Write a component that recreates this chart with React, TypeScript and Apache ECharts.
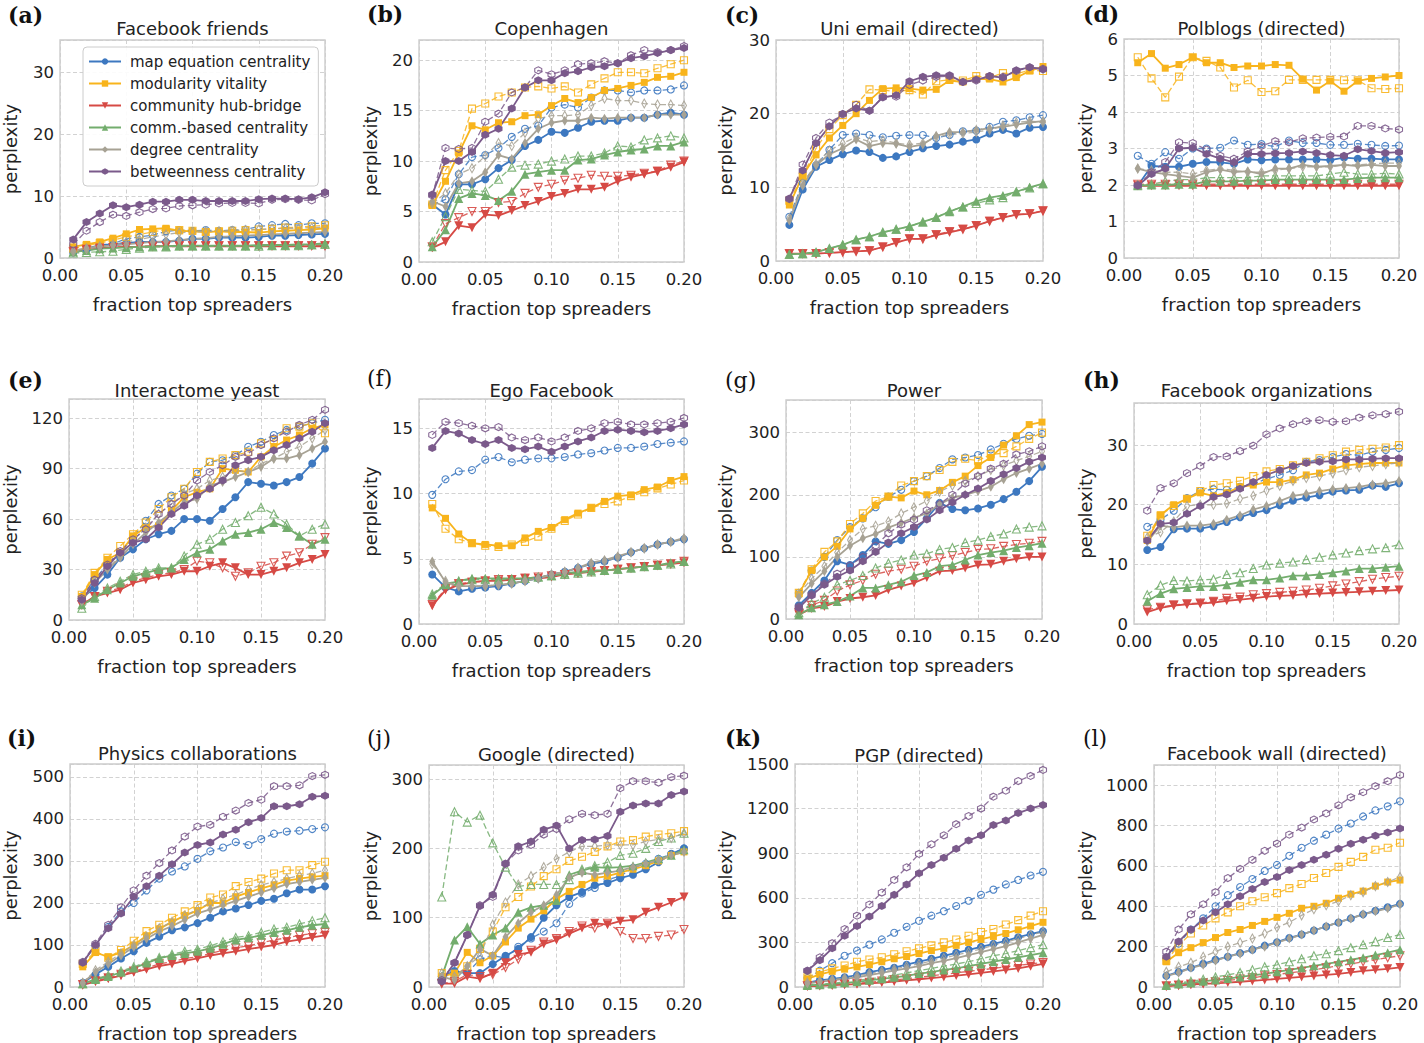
import React, { useEffect, useRef } from "react";
import * as echarts from "echarts";

// x positions: fraction of top spreaders
const X_FRACTIONS = [0.01, 0.02, 0.03, 0.04, 0.05, 0.06, 0.07, 0.08, 0.09, 0.1, 0.11, 0.12, 0.13, 0.14, 0.15, 0.16, 0.17, 0.18, 0.19, 0.2];

const METHODS = [
  "map equation centrality",
  "modularity vitality",
  "community hub-bridge",
  "comm.-based centrality",
  "degree centrality",
  "betweenness centrality",
];

const PANEL_LABELS = ["(a)", "(b)", "(c)", "(d)", "(e)", "(f)", "(g)", "(h)", "(i)", "(j)", "(k)", "(l)"];
const PANEL_TITLES = [
  "Facebook friends", "Copenhagen", "Uni email (directed)", "Polblogs (directed)",
  "Interactome yeast", "Ego Facebook", "Power", "Facebook organizations",
  "Physics collaborations", "Google (directed)", "PGP (directed)", "Facebook wall (directed)",
];
const Y_MAX = [35.2, 22, 30, 6, 131.4, 17.25, 352.6, 37.06, 530.8, 320.4, 1500, 1100];
const Y_STEP = [10, 5, 10, 1, 30, 5, 100, 10, 100, 100, 300, 200];

// each panel: [mecSolid, mecDashed, mvSolid, mvDashed, chbSolid, chbDashed, cbcSolid, cbcDashed, degSolid, degDashed, betSolid, betDashed]
const FACEBOOK_FRIENDS = [
  [1.0, 1.5, 2.1, 2.2, 2.4, 2.6, 2.6, 2.6, 2.8, 3.1, 3.1, 3.3, 3.3, 3.3, 3.4, 3.6, 3.6, 3.7, 3.8, 3.9],
  [0.9, 1.3, 1.9, 2.3, 3.1, 3.4, 3.7, 4.3, 4.5, 4.4, 4.5, 4.4, 4.5, 4.6, 5.1, 5.3, 5.5, 5.3, 5.6, 5.6],
  [1.8, 2.2, 2.6, 3.2, 3.9, 4.6, 4.7, 4.8, 4.4, 4.3, 4.2, 4.3, 4.2, 4.2, 4.1, 4.3, 4.4, 4.5, 4.6, 4.8],
  [1.5, 2.0, 2.4, 2.9, 3.4, 3.8, 4.2, 4.6, 4.5, 4.4, 4.2, 4.3, 4.4, 4.5, 4.6, 4.7, 4.9, 5.0, 5.1, 5.3],
  [1.1, 1.4, 1.6, 1.7, 1.8, 1.8, 1.9, 1.9, 1.9, 1.9, 1.9, 1.9, 1.9, 1.9, 1.9, 1.9, 1.9, 1.9, 1.9, 1.9],
  [1.0, 1.3, 1.5, 1.7, 1.8, 1.9, 1.9, 2.0, 2.0, 2.0, 2.0, 2.0, 2.0, 2.0, 2.0, 2.0, 2.0, 2.0, 2.0, 2.0],
  [1.0, 1.2, 1.5, 1.6, 1.7, 1.8, 1.9, 1.9, 2.0, 2.0, 2.0, 2.0, 2.0, 2.0, 2.1, 2.1, 2.1, 2.2, 2.2, 2.4],
  [0.8, 0.9, 1.0, 1.1, 1.4, 1.6, 1.8, 1.8, 1.9, 1.9, 1.9, 1.9, 1.9, 1.9, 1.9, 2.0, 2.0, 2.0, 2.1, 2.2],
  [1.2, 1.6, 1.9, 2.0, 2.2, 2.4, 2.6, 2.7, 2.9, 3.1, 3.2, 3.4, 3.5, 3.6, 3.7, 3.8, 3.9, 4.0, 4.1, 4.2],
  [1.0, 1.4, 1.8, 2.2, 2.6, 3.0, 3.4, 3.8, 4.1, 4.2, 4.3, 4.3, 4.4, 4.5, 4.6, 4.7, 4.8, 4.8, 4.9, 5.0],
  [3.0, 5.8, 7.2, 8.5, 8.2, 8.6, 9.1, 9.1, 9.4, 9.4, 9.2, 9.2, 9.2, 9.2, 9.5, 9.6, 9.6, 9.5, 9.8, 10.6],
  [2.2, 4.4, 5.8, 7.0, 6.8, 7.4, 7.9, 8.0, 8.4, 8.5, 8.6, 8.8, 8.9, 8.9, 8.8, 9.4, 9.5, 9.4, 9.3, 10.3],
];

const COPENHAGEN = [
  [5.7, 4.7, 7.7, 7.7, 8.2, 9.3, 10.1, 11.5, 12.1, 12.9, 12.8, 13.3, 13.9, 14.0, 14.0, 14.3, 14.3, 14.6, 14.8, 14.6],
  [5.7, 6.2, 8.7, 10.4, 10.6, 11.3, 12.4, 13.2, 13.5, 15.3, 15.6, 15.3, 16.3, 17.0, 17.0, 16.8, 17.0, 17.0, 17.1, 17.5],
  [5.6, 8.0, 10.8, 13.5, 13.1, 13.8, 13.9, 14.5, 14.6, 15.5, 16.2, 15.8, 16.3, 17.0, 17.2, 17.5, 17.8, 18.3, 18.4, 18.8],
  [5.7, 9.1, 11.0, 15.2, 15.7, 16.4, 16.8, 17.3, 17.4, 17.2, 17.4, 16.8, 17.6, 18.2, 18.8, 18.8, 18.7, 19.2, 19.6, 20.0],
  [1.4, 2.0, 3.6, 3.4, 4.7, 4.6, 5.1, 5.6, 6.0, 6.5, 6.8, 7.2, 7.2, 7.4, 8.0, 8.4, 8.7, 9.0, 9.4, 9.9],
  [1.5, 3.8, 4.4, 5.0, 5.0, 5.9, 6.0, 6.8, 7.4, 7.7, 8.1, 8.3, 8.6, 8.5, 8.5, 8.6, 8.8, 9.0, 9.6, 10.0],
  [1.5, 3.2, 6.3, 6.8, 6.6, 6.1, 7.0, 8.7, 8.9, 9.1, 9.1, 10.1, 10.2, 10.6, 10.9, 11.1, 11.2, 11.5, 11.5, 11.9],
  [2.0, 4.5, 7.2, 7.1, 7.0, 8.2, 9.4, 9.6, 9.7, 10.0, 10.2, 10.5, 10.5, 10.8, 11.5, 11.4, 12.1, 12.3, 12.5, 12.3],
  [6.0, 5.5, 7.8, 8.0, 8.9, 10.6, 10.2, 11.8, 13.2, 13.8, 14.0, 14.0, 14.3, 14.2, 14.3, 14.3, 14.3, 14.6, 14.6, 14.6],
  [5.8, 6.8, 8.7, 9.3, 10.5, 11.8, 11.5, 12.8, 14.2, 14.5, 14.5, 14.6, 15.5, 16.2, 16.0, 16.0, 15.7, 15.6, 15.6, 15.5],
  [6.7, 10.0, 10.0, 10.9, 12.6, 13.2, 15.2, 17.3, 18.0, 18.0, 18.7, 18.9, 19.3, 19.4, 19.7, 20.2, 20.4, 20.7, 21.0, 21.2],
  [6.6, 11.3, 11.2, 11.3, 13.9, 14.7, 16.8, 17.3, 19.0, 18.6, 19.0, 19.6, 19.7, 19.9, 19.7, 20.5, 21.0, 20.8, 21.0, 21.4],
];

const UNI_EMAIL = [
  [4.9, 9.7, 12.8, 13.7, 14.5, 15.0, 14.8, 14.0, 14.2, 14.8, 15.3, 15.6, 15.8, 16.2, 16.5, 17.3, 17.8, 17.3, 18.1, 18.2],
  [6.0, 10.6, 13.0, 15.1, 17.1, 17.3, 17.1, 16.8, 17.0, 17.1, 17.1, 16.7, 17.1, 17.6, 17.7, 18.2, 18.9, 19.1, 19.5, 19.8],
  [7.6, 11.6, 14.4, 16.7, 18.4, 20.0, 21.8, 23.4, 23.5, 23.4, 23.2, 23.3, 24.5, 24.3, 24.7, 24.7, 24.3, 24.9, 25.8, 26.4],
  [8.2, 11.5, 15.3, 17.9, 19.8, 21.2, 23.3, 23.2, 23.0, 23.2, 22.6, 24.4, 24.6, 24.5, 25.1, 24.9, 25.5, 25.4, 25.9, 25.8],
  [1.0, 1.0, 1.0, 1.1, 1.2, 1.3, 1.4, 1.9, 2.5, 3.0, 3.0, 3.5, 3.9, 4.3, 4.8, 5.4, 5.9, 6.3, 6.4, 6.8],
  [1.0, 1.0, 1.0, 1.1, 1.2, 1.3, 1.4, 1.9, 2.5, 3.0, 3.0, 3.6, 4.0, 4.3, 4.8, 5.4, 5.9, 6.3, 6.4, 6.8],
  [0.9, 1.0, 1.2, 1.7, 2.2, 2.9, 3.3, 3.9, 4.3, 4.7, 5.3, 5.9, 6.7, 7.4, 8.1, 8.6, 8.9, 9.4, 10.0, 10.5],
  [0.9, 1.0, 1.2, 1.7, 2.2, 2.9, 3.3, 3.9, 4.3, 4.7, 5.3, 5.9, 6.8, 7.3, 7.8, 8.3, 8.6, 9.4, 9.9, 10.5],
  [5.5, 10.2, 13.0, 14.5, 15.3, 16.5, 15.6, 16.0, 15.9, 15.5, 15.8, 17.0, 17.5, 17.5, 17.8, 18.0, 18.2, 18.5, 18.8, 19.0],
  [5.8, 10.5, 13.2, 15.0, 16.0, 16.8, 16.2, 16.4, 16.0, 15.8, 16.0, 16.8, 17.2, 17.3, 17.5, 17.8, 18.4, 18.8, 19.0, 18.8],
  [8.5, 12.3, 16.0, 18.3, 20.0, 20.7, 20.4, 22.2, 22.5, 24.4, 25.0, 25.2, 25.2, 24.3, 24.6, 25.1, 24.9, 25.9, 26.3, 26.0],
  [8.4, 13.1, 16.7, 18.8, 19.9, 21.2, 20.4, 22.3, 22.3, 23.9, 24.5, 25.0, 25.1, 24.3, 24.5, 25.1, 25.0, 25.8, 26.3, 26.1],
];

const POLBLOGS = [
  [1.98, 2.52, 2.5, 2.5, 2.58, 2.63, 2.62, 2.58, 2.7, 2.68, 2.7, 2.7, 2.7, 2.7, 2.68, 2.75, 2.72, 2.72, 2.7, 2.7],
  [2.8, 2.58, 2.9, 2.72, 3.0, 3.0, 3.02, 3.22, 3.1, 3.12, 3.05, 3.22, 3.15, 3.15, 3.1, 3.1, 3.13, 3.1, 3.07, 3.08],
  [5.35, 5.6, 5.2, 5.3, 5.5, 5.35, 5.35, 5.22, 5.26, 5.26, 5.3, 5.28, 4.9, 4.6, 4.85, 4.57, 4.85, 4.92, 4.96, 5.0],
  [5.5, 4.92, 4.4, 4.97, 5.5, 5.4, 5.22, 4.67, 4.87, 4.55, 4.57, 4.88, 4.88, 4.88, 4.88, 4.87, 4.87, 4.65, 4.63, 4.65],
  [1.98, 1.98, 1.98, 1.98, 1.98, 1.98, 1.98, 1.98, 1.98, 1.98, 1.98, 1.98, 1.98, 1.98, 1.98, 1.98, 1.98, 1.98, 1.98, 1.98],
  [2.02, 2.02, 2.02, 2.02, 2.02, 2.02, 2.02, 2.02, 2.02, 2.02, 2.02, 2.02, 2.02, 2.02, 2.02, 2.02, 2.02, 2.02, 2.02, 2.02],
  [1.98, 2.0, 2.0, 2.02, 2.02, 2.1, 2.1, 2.1, 2.12, 2.12, 2.15, 2.15, 2.15, 2.15, 2.15, 2.15, 2.18, 2.2, 2.2, 2.2],
  [2.0, 2.02, 2.1, 2.15, 2.15, 2.2, 2.2, 2.2, 2.2, 2.25, 2.25, 2.25, 2.25, 2.25, 2.3, 2.35, 2.3, 2.3, 2.32, 2.3],
  [2.45, 2.35, 2.3, 2.25, 2.2, 2.35, 2.42, 2.35, 2.38, 2.3, 2.45, 2.45, 2.55, 2.5, 2.52, 2.55, 2.52, 2.55, 2.52, 2.52],
  [2.45, 2.4, 2.35, 2.35, 2.3, 2.4, 2.45, 2.4, 2.35, 2.35, 2.4, 2.45, 2.5, 2.5, 2.5, 2.55, 2.55, 2.58, 2.6, 2.6],
  [1.98, 2.3, 2.45, 3.0, 3.02, 2.85, 2.72, 2.62, 2.85, 2.85, 2.87, 2.88, 2.92, 2.88, 2.82, 2.8, 2.98, 2.93, 2.88, 2.9],
  [2.0, 2.35, 2.63, 3.17, 3.15, 2.97, 2.8, 2.72, 2.92, 3.07, 3.2, 3.17, 3.28, 3.3, 3.32, 3.33, 3.62, 3.62, 3.55, 3.52],
];

const INTERACTOME_YEAST = [
  [13, 19, 27, 37, 42, 48, 51, 53, 60, 60, 59, 66, 73, 82, 81, 80, 82, 85, 93, 102],
  [14, 24, 33, 40, 49, 59, 69, 74, 78, 87, 94, 95, 98, 103, 106, 110, 113, 115, 117, 119],
  [14, 27, 36, 40, 50, 55, 56, 65, 73, 76, 78, 90, 89, 88, 97, 103, 107, 110, 114, 116],
  [15, 28, 37, 44, 51, 58, 66, 73, 78, 88, 94, 96, 98, 100, 105, 107, 114, 115, 117, 111],
  [9, 14, 16, 18, 22, 24, 26, 27, 29, 29, 32, 34, 31, 27, 27, 29, 31, 34, 36, 39],
  [9, 14, 17, 19, 23, 25, 27, 28, 30, 35, 34, 31, 26, 28, 32, 34, 38, 40, 45, 49],
  [9, 13, 18, 22, 26, 28, 30, 31, 36, 40, 42, 47, 51, 52, 54, 58, 55, 50, 45, 48],
  [7, 14, 19, 23, 27, 29, 31, 31, 38, 45, 48, 54, 58, 62, 67, 63, 57, 50, 54, 57],
  [11, 22, 30, 37, 45, 52, 58, 64, 70, 72, 80, 82, 85, 88, 91, 96, 96, 98, 102, 106],
  [12, 23, 31, 38, 47, 55, 63, 69, 75, 78, 83, 85, 89, 88, 93, 96, 100, 103, 108, 113],
  [12, 22, 32, 40, 46, 48, 55, 63, 68, 74, 78, 83, 92, 95, 97, 101, 104, 108, 112, 117],
  [13, 24, 33, 41, 48, 54, 63, 69, 74, 83, 88, 92, 97, 99, 104, 108, 112, 116, 119, 125],
];

const EGO_FACEBOOK = [
  [3.8, 2.8, 2.5, 2.7, 2.8, 2.9, 3.1, 3.3, 3.5, 3.8, 4.0, 4.3, 4.6, 4.8, 5.1, 5.5, 5.8, 6.1, 6.3, 6.5],
  [9.9, 11.1, 11.7, 11.8, 12.6, 12.8, 12.4, 12.6, 12.7, 12.7, 12.8, 13.0, 13.1, 13.3, 13.5, 13.5, 13.6, 13.8, 13.9, 14.0],
  [8.9, 8.1, 6.9, 6.2, 6.1, 6.0, 6.0, 6.6, 7.1, 7.4, 8.0, 8.5, 8.9, 9.4, 9.8, 9.9, 10.3, 10.5, 11.0, 11.3],
  [9.2, 7.3, 6.5, 6.2, 6.0, 5.9, 6.1, 6.3, 6.7, 7.3, 7.9, 8.4, 8.9, 9.2, 9.4, 9.8, 10.1, 10.4, 10.7, 11.0],
  [1.4, 2.6, 3.0, 3.2, 3.3, 3.3, 3.4, 3.5, 3.5, 3.6, 3.8, 3.9, 4.0, 4.1, 4.2, 4.3, 4.4, 4.5, 4.6, 4.7],
  [1.5, 2.7, 3.1, 3.2, 3.3, 3.4, 3.4, 3.5, 3.6, 3.7, 3.8, 3.9, 4.0, 4.1, 4.2, 4.3, 4.4, 4.5, 4.6, 4.8],
  [2.2, 3.0, 3.3, 3.5, 3.5, 3.5, 3.5, 3.5, 3.6, 3.7, 3.9, 4.0, 4.1, 4.1, 4.2, 4.3, 4.4, 4.5, 4.7, 4.8],
  [2.3, 3.1, 3.3, 3.4, 3.4, 3.4, 3.4, 3.5, 3.6, 3.7, 3.8, 3.9, 4.0, 4.1, 4.2, 4.3, 4.4, 4.5, 4.6, 4.8],
  [4.8, 3.2, 2.9, 2.9, 2.9, 3.0, 3.1, 3.3, 3.5, 3.8, 4.0, 4.3, 4.7, 4.9, 5.2, 5.5, 5.8, 6.1, 6.3, 6.6],
  [4.6, 3.3, 2.9, 2.9, 2.9, 3.0, 3.1, 3.3, 3.5, 3.8, 4.0, 4.3, 4.6, 4.8, 5.1, 5.5, 5.8, 6.1, 6.3, 6.5],
  [13.5, 14.8, 14.6, 14.1, 13.8, 14.1, 13.5, 13.4, 13.6, 13.2, 13.6, 14.0, 14.3, 14.8, 14.9, 14.8, 14.7, 14.8, 15.0, 15.3],
  [14.5, 15.5, 15.4, 15.2, 15.0, 15.1, 14.3, 14.1, 14.3, 14.0, 14.3, 14.8, 15.0, 15.4, 15.5, 15.3, 15.3, 15.4, 15.5, 15.8],
];

const POWER = [
  [22, 42, 62, 93, 87, 103, 125, 121, 127, 140, 162, 187, 177, 175, 178, 184, 193, 205, 222, 245],
  [42, 78, 100, 127, 148, 162, 180, 197, 208, 222, 230, 243, 257, 260, 264, 273, 282, 290, 295, 298],
  [40, 78, 100, 117, 145, 162, 183, 197, 195, 206, 200, 207, 220, 230, 247, 260, 280, 295, 313, 317],
  [42, 80, 108, 125, 153, 170, 190, 197, 215, 222, 230, 240, 253, 258, 255, 265, 267, 278, 290, 300],
  [7, 17, 20, 28, 33, 35, 38, 47, 53, 58, 67, 77, 78, 82, 87, 88, 93, 97, 100, 100],
  [10, 22, 30, 45, 55, 62, 72, 77, 80, 85, 93, 97, 102, 107, 112, 113, 117, 120, 122, 125],
  [7, 18, 23, 28, 37, 50, 50, 55, 60, 70, 75, 85, 87, 95, 103, 107, 110, 115, 118, 122],
  [10, 25, 35, 55, 62, 70, 82, 90, 95, 103, 105, 112, 115, 123, 127, 133, 137, 145, 148, 150],
  [35, 57, 77, 100, 118, 130, 137, 147, 155, 163, 170, 185, 195, 200, 206, 213, 225, 235, 242, 250],
  [40, 65, 85, 107, 127, 145, 150, 157, 170, 180, 190, 205, 215, 222, 230, 240, 247, 255, 262, 270],
  [18, 38, 55, 68, 78, 93, 108, 123, 138, 148, 160, 175, 188, 200, 210, 222, 233, 243, 253, 260],
  [20, 40, 57, 73, 86, 100, 118, 138, 152, 160, 175, 185, 200, 218, 230, 242, 250, 265, 270, 278],
];

const FACEBOOK_ORGANIZATIONS = [
  [12.4, 12.9, 15.9, 16.0, 16.0, 16.4, 17.1, 17.9, 18.6, 19.1, 19.9, 20.7, 21.2, 21.6, 22.2, 22.4, 22.5, 23.2, 23.0, 23.6],
  [16.3, 17.5, 19.0, 21.1, 22.3, 22.6, 22.5, 23.0, 23.5, 24.3, 25.0, 25.8, 27.2, 27.5, 28.0, 28.5, 28.3, 28.9, 29.2, 29.5],
  [14.0, 18.3, 20.0, 21.0, 22.0, 21.5, 22.0, 23.0, 23.3, 23.8, 23.8, 24.2, 25.0, 25.3, 26.0, 26.6, 26.8, 27.0, 27.0, 27.0],
  [14.8, 18.2, 19.8, 21.0, 22.3, 23.3, 23.6, 24.0, 24.8, 25.6, 26.0, 26.6, 27.2, 27.8, 28.3, 28.9, 29.2, 29.4, 29.6, 30.0],
  [2.0, 2.7, 3.1, 3.3, 3.4, 3.6, 3.9, 4.1, 4.3, 4.6, 4.7, 4.8, 5.0, 5.1, 5.2, 5.3, 5.4, 5.5, 5.6, 5.7],
  [2.4, 2.8, 3.2, 3.4, 3.5, 3.8, 4.3, 4.5, 4.9, 5.1, 5.3, 5.5, 5.7, 6.0, 6.4, 6.7, 7.1, 7.5, 7.8, 8.0],
  [3.8, 5.1, 5.9, 6.1, 6.3, 6.3, 6.6, 7.0, 7.4, 7.4, 7.7, 8.1, 8.1, 8.3, 8.6, 8.9, 9.3, 9.3, 9.5, 9.7],
  [4.9, 6.5, 7.3, 7.2, 7.4, 7.5, 8.3, 8.6, 9.3, 9.9, 10.2, 10.4, 10.8, 11.2, 11.6, 11.9, 12.3, 12.6, 12.8, 13.3],
  [13.8, 16.5, 16.2, 16.5, 16.5, 16.8, 17.5, 18.2, 19.2, 19.8, 20.6, 21.5, 21.8, 22.3, 22.6, 22.8, 23.0, 23.4, 23.6, 24.0],
  [14.5, 15.4, 17.2, 19.8, 20.0, 20.0, 20.2, 21.0, 21.5, 22.4, 23.2, 24.0, 24.5, 24.8, 25.3, 25.8, 26.3, 26.5, 26.8, 27.0],
  [14.0, 16.8, 17.0, 18.5, 19.8, 21.3, 21.7, 22.7, 23.8, 25.0, 25.8, 26.5, 27.0, 27.2, 27.3, 27.6, 27.6, 27.7, 27.8, 27.8],
  [19.0, 22.8, 23.6, 25.3, 26.5, 28.0, 28.1, 29.0, 29.9, 31.8, 32.8, 33.5, 34.0, 34.2, 33.9, 34.0, 34.6, 35.0, 35.2, 35.6],
];

const PHYSICS_COLLABORATIONS = [
  [10, 30, 48, 68, 85, 105, 120, 135, 142, 152, 165, 180, 187, 195, 205, 210, 223, 232, 232, 240],
  [58, 98, 143, 180, 200, 230, 258, 275, 287, 305, 323, 332, 345, 338, 352, 365, 370, 372, 376, 380],
  [48, 82, 72, 82, 100, 122, 138, 155, 170, 182, 200, 200, 215, 225, 235, 243, 253, 258, 262, 265],
  [55, 85, 70, 88, 110, 133, 148, 165, 180, 195, 213, 220, 240, 250, 258, 270, 278, 278, 290, 298],
  [5, 13, 20, 27, 35, 42, 50, 55, 62, 68, 75, 80, 85, 90, 95, 100, 108, 113, 118, 123],
  [6, 15, 22, 30, 38, 45, 55, 60, 68, 72, 80, 87, 93, 98, 105, 112, 117, 123, 127, 130],
  [8, 18, 25, 35, 45, 57, 68, 75, 80, 85, 92, 102, 112, 117, 123, 130, 135, 142, 147, 150],
  [8, 20, 28, 38, 48, 60, 70, 78, 85, 90, 98, 108, 118, 122, 130, 138, 142, 150, 158, 165],
  [10, 35, 55, 75, 95, 115, 132, 145, 160, 175, 185, 195, 205, 215, 225, 235, 245, 250, 255, 260],
  [10, 40, 60, 80, 100, 120, 140, 155, 170, 185, 200, 210, 220, 232, 243, 250, 258, 265, 270, 278],
  [58, 100, 140, 175, 215, 240, 265, 292, 320, 338, 344, 363, 374, 392, 402, 430, 430, 435, 453, 455],
  [60, 103, 148, 190, 230, 265, 295, 325, 358, 382, 386, 405, 420, 438, 446, 478, 478, 480, 502, 505],
];

const GOOGLE = [
  [15, 23, 20, 20, 33, 45, 55, 72, 100, 118, 130, 137, 147, 150, 157, 162, 170, 180, 192, 200],
  [12, 22, 20, 40, 45, 42, 58, 70, 80, 92, 120, 135, 143, 155, 160, 172, 178, 185, 192, 200],
  [15, 20, 50, 35, 45, 65, 85, 98, 110, 127, 138, 148, 157, 160, 165, 170, 175, 182, 190, 195],
  [20, 15, 30, 55, 80, 115, 130, 145, 160, 170, 182, 188, 195, 203, 210, 212, 217, 220, 222, 225],
  [5, 5, 15, 12, 20, 35, 47, 50, 62, 68, 77, 85, 92, 90, 95, 97, 108, 115, 122, 130],
  [5, 8, 18, 15, 18, 28, 40, 53, 65, 70, 80, 88, 85, 92, 80, 70, 70, 73, 75, 83],
  [15, 68, 87, 62, 75, 85, 108, 115, 118, 125, 162, 168, 173, 172, 173, 175, 180, 185, 190, 198],
  [130, 253, 238, 248, 208, 173, 145, 148, 148, 148, 155, 170, 175, 180, 190, 193, 200, 210, 215, 222],
  [15, 10, 30, 55, 45, 72, 92, 108, 118, 133, 158, 165, 162, 165, 168, 173, 178, 183, 190, 195],
  [20, 15, 30, 45, 90, 122, 148, 160, 173, 185, 195, 203, 203, 205, 205, 205, 210, 213, 215, 222],
  [8, 35, 75, 117, 133, 178, 203, 210, 227, 233, 200, 212, 213, 218, 253, 262, 265, 265, 277, 282],
  [10, 35, 75, 118, 130, 178, 197, 205, 220, 228, 242, 250, 248, 250, 287, 297, 297, 295, 303, 305],
];

const PGP = [
  [30, 45, 55, 65, 80, 100, 115, 130, 150, 170, 190, 210, 230, 250, 270, 290, 310, 335, 355, 375],
  [60, 110, 160, 210, 245, 285, 320, 365, 405, 445, 480, 510, 545, 580, 620, 655, 690, 720, 750, 775],
  [55, 85, 105, 120, 135, 150, 170, 190, 205, 225, 245, 260, 280, 300, 320, 340, 360, 385, 410, 435],
  [65, 100, 125, 145, 170, 185, 200, 220, 240, 260, 280, 300, 320, 345, 370, 390, 420, 450, 480, 510],
  [5, 8, 12, 16, 20, 25, 30, 37, 45, 52, 60, 68, 77, 85, 95, 105, 115, 125, 140, 155],
  [8, 12, 15, 20, 25, 32, 40, 48, 55, 65, 75, 85, 95, 105, 115, 125, 135, 145, 155, 165],
  [10, 15, 20, 28, 35, 45, 55, 65, 75, 90, 100, 115, 125, 140, 155, 170, 185, 200, 215, 230],
  [15, 20, 25, 35, 45, 55, 65, 80, 95, 110, 125, 140, 155, 170, 190, 210, 225, 245, 265, 285],
  [25, 35, 45, 55, 65, 80, 95, 110, 125, 140, 160, 175, 195, 215, 235, 255, 275, 300, 325, 350],
  [30, 40, 50, 60, 75, 90, 105, 120, 140, 155, 175, 195, 215, 235, 255, 280, 300, 325, 350, 370],
  [110, 180, 260, 345, 410, 475, 545, 620, 690, 765, 820, 870, 930, 985, 1020, 1090, 1120, 1170, 1200, 1225],
  [110, 200, 295, 390, 480, 555, 635, 720, 805, 895, 960, 1020, 1095, 1150, 1200, 1280, 1320, 1385, 1420, 1460],
];

const FACEBOOK_WALL = [
  [55, 75, 95, 115, 135, 150, 168, 185, 205, 222, 243, 260, 280, 300, 320, 340, 360, 378, 395, 412],
  [140, 215, 285, 340, 400, 455, 495, 535, 575, 605, 650, 690, 725, 755, 785, 810, 845, 875, 895, 920],
  [125, 170, 195, 220, 245, 270, 285, 305, 325, 345, 365, 390, 400, 415, 440, 460, 475, 500, 520, 530],
  [130, 205, 265, 305, 340, 370, 400, 425, 445, 465, 490, 510, 540, 565, 595, 620, 645, 680, 690, 715],
  [5, 8, 12, 15, 18, 22, 26, 30, 35, 40, 45, 50, 55, 60, 65, 72, 80, 85, 90, 97],
  [5, 10, 15, 20, 25, 32, 40, 45, 55, 62, 70, 78, 85, 95, 105, 115, 125, 135, 145, 155],
  [8, 15, 20, 28, 35, 42, 50, 58, 65, 75, 85, 95, 105, 115, 125, 135, 145, 158, 170, 185],
  [10, 20, 28, 38, 50, 60, 72, 85, 100, 110, 125, 140, 155, 165, 180, 195, 210, 225, 245, 260],
  [55, 70, 95, 110, 130, 150, 165, 185, 200, 220, 240, 260, 280, 300, 320, 340, 360, 375, 390, 410],
  [75, 100, 120, 150, 175, 200, 220, 240, 265, 295, 320, 355, 385, 405, 425, 455, 470, 500, 520, 545],
  [150, 225, 285, 330, 370, 410, 450, 485, 520, 545, 580, 605, 630, 655, 685, 710, 730, 750, 765, 785],
  [175, 285, 360, 410, 470, 540, 585, 630, 675, 710, 755, 790, 830, 860, 900, 940, 965, 995, 1020, 1050],
];

const PANELS = [
  FACEBOOK_FRIENDS, COPENHAGEN, UNI_EMAIL, POLBLOGS,
  INTERACTOME_YEAST, EGO_FACEBOOK, POWER, FACEBOOK_ORGANIZATIONS,
  PHYSICS_COLLABORATIONS, GOOGLE, PGP, FACEBOOK_WALL,
];

// ---- styling / layout ----
const COLORS = ["#3d78c0", "#f8b41c", "#d64a45", "#73ad6d", "#a7a294", "#7b5a8b"];
const FONT = "DejaVu Sans";
const HEX = "path://M0,-10L8.66,-5L8.66,5L0,10L-8.66,5L-8.66,-5Z";
const SYMBOLS = ["circle", "rect", "triangle", "triangle", "diamond", HEX];
const ROTATE = [0, 0, 180, 0, 0, 0];
const SIZE_SOLID: any[] = [8, 7, 9, 9, [6, 10], [8, 8]];
const SIZE_HOLLOW: any[] = [7, 7, 8, 8, [5, 9], [7, 7]];

// [left, top, width, height]
const GRIDS = [
  [60, 40, 265, 218], [419, 40, 265, 222], [776, 40, 267, 221], [1124, 39, 275, 219],
  [69, 399, 256, 221], [419, 399, 265, 225], [786, 400, 256, 219], [1134, 403, 265, 221],
  [70, 764, 255, 223], [429, 765, 255, 222], [795, 764, 248, 223], [1154, 765, 246, 222],
];
const YNAME_CENTER_X = [10, 370, 725, 1085, 10, 370, 725, 1085, 10, 370, 725, 1085];
const LABEL_POS = [
  [8, 15], [367, 14], [725, 15], [1083, 14],
  [8, 380], [367, 378], [725, 380], [1083, 380],
  [7, 738], [367, 738], [725, 738], [1083, 738],
];
const TITLE_Y = [28, 28, 28, 28, 390, 390, 390, 390, 753, 754, 755, 753];
const BOLD_LABEL = [true, true, true, true, true, false, false, true, true, false, true, false];

function buildOption(): any {
  const grids: any[] = [];
  const xAxes: any[] = [];
  const yAxes: any[] = [];
  const series: any[] = [];
  const graphics: any[] = [];

  PANELS.forEach((panel, i) => {
    const [l, t, w, h] = GRIDS[i];
    grids.push({
      left: l, top: t, width: w, height: h,
      show: true, borderColor: "#cccccc", borderWidth: 1.4,
      containLabel: false,
    });
    xAxes.push({
      gridIndex: i, type: "value", min: 0, max: 0.2, interval: 0.05,
      axisLine: { show: false }, axisTick: { show: false },
      splitLine: { show: true, lineStyle: { color: "#cdcdcd", width: 0.9, type: [4, 2.5] } },
      axisLabel: {
        formatter: (v: number) => v.toFixed(2),
        fontSize: 16.5, fontFamily: FONT, color: "#222", margin: 9, lineHeight: 16,
      },
      name: "fraction top spreaders", nameLocation: "middle", nameGap: 37,
      nameTextStyle: { fontSize: 18, fontFamily: FONT, color: "#222" },
    });
    const step = Y_STEP[i];
    yAxes.push({
      gridIndex: i, type: "value", min: 0, max: Y_MAX[i], interval: step,
      axisLine: { show: false }, axisTick: { show: false },
      splitLine: { show: true, lineStyle: { color: "#cdcdcd", width: 0.9, type: [4, 2.5] } },
      axisLabel: {
        formatter: (v: number) => {
          const r = v / step;
          return Math.abs(r - Math.round(r)) < 1e-6 ? String(Math.round(v)) : "";
        },
        fontSize: 16.5, fontFamily: FONT, color: "#222", margin: 6, lineHeight: 16,
      },
      name: "perplexity", nameLocation: "middle",
      nameGap: l - YNAME_CENTER_X[i] - 9,
      nameTextStyle: { fontSize: 18, fontFamily: FONT, color: "#222" },
    });

    panel.forEach((vals, k) => {
      const m = Math.floor(k / 2);
      const dashed = k % 2 === 1;
      const c = COLORS[m];
      series.push({
        type: "line",
        name: dashed ? METHODS[m] + " (dashed)" : METHODS[m],
        xAxisIndex: i, yAxisIndex: i,
        data: X_FRACTIONS.map((x, j) => [x, vals[j]]),
        symbol: SYMBOLS[m],
        symbolRotate: ROTATE[m],
        symbolSize: dashed ? SIZE_HOLLOW[m] : SIZE_SOLID[m],
        showSymbol: true,
        color: c,
        lineStyle: dashed
          ? { color: c, width: 1.3, type: [6, 3], opacity: 0.85 }
          : { color: c, width: 1.8 },
        itemStyle: dashed
          ? { color: "rgba(255,255,255,0)", borderColor: c, borderWidth: 1.1, opacity: 0.9 }
          : { color: c, borderWidth: 0 },
        emphasis: { disabled: true },
        z: 2,
      });
    });

    graphics.push({
      type: "text",
      x: LABEL_POS[i][0], y: LABEL_POS[i][1],
      style: {
        text: PANEL_LABELS[i],
        fontSize: 22, fontFamily: "DejaVu Serif",
        fontWeight: BOLD_LABEL[i] ? "bold" : "normal",
        fill: "#111",
        align: "left", verticalAlign: "middle",
        textAlign: "left", textVerticalAlign: "middle",
      },
    });
    graphics.push({
      type: "text",
      x: l + w / 2, y: TITLE_Y[i],
      style: {
        text: PANEL_TITLES[i],
        fontSize: 18, fontFamily: FONT, fill: "#222",
        align: "center", verticalAlign: "middle",
        textAlign: "center", textVerticalAlign: "middle",
      },
    });
  });

  return {
    animation: false,
    backgroundColor: "#ffffff",
    grid: grids,
    xAxis: xAxes,
    yAxis: yAxes,
    series,
    graphic: { elements: graphics },
    legend: {
      data: METHODS,
      orient: "vertical",
      left: 83, top: 47,
      padding: [7, 8, 7, 5],
      itemGap: 7,
      itemWidth: 32, itemHeight: 8,
      backgroundColor: "rgba(255,255,255,0.9)",
      borderColor: "#cccccc", borderWidth: 1, borderRadius: 4,
      textStyle: { fontSize: 15, fontFamily: FONT, color: "#222", padding: [0, 0, 0, 4] },
      selectedMode: false,
    },
  };
}

export default function App() {
  const ref = useRef<HTMLDivElement>(null);
  useEffect(() => {
    if (!ref.current) return;
    const chart = echarts.init(ref.current, undefined, { renderer: "svg" });
    chart.setOption(buildOption());
    return () => chart.dispose();
  }, []);
  return (
    <div
      ref={ref}
      style={{ position: "fixed", left: 0, top: 0, width: 1424, height: 1043, background: "#fff" }}
    />
  );
}
